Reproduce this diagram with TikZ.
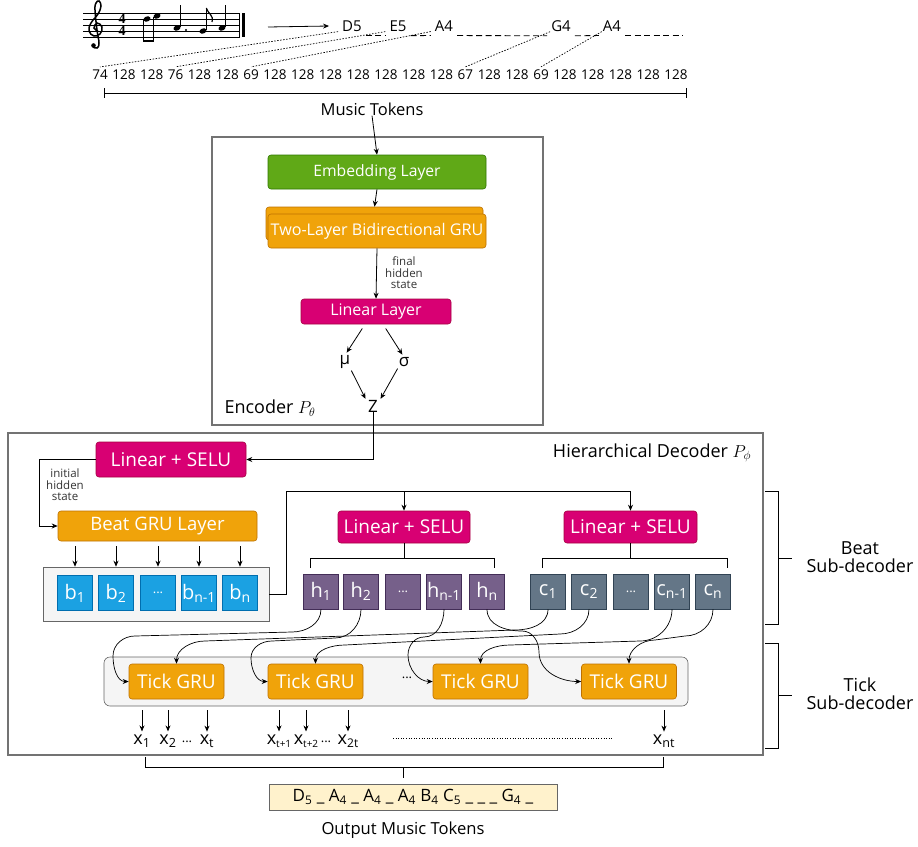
\documentclass[tikz,border=0pt]{standalone}
\usepackage{fontspec}
\setmainfont{Open Sans}
\newfontfamily\timefont{Liberation Serif}
\usetikzlibrary{arrows.meta}
\definecolor{embgreen}{HTML}{60A917}
\definecolor{embgreenD}{HTML}{2D7600}
\definecolor{gruorange}{HTML}{F0A30A}
\definecolor{gruorangeD}{HTML}{BD7000}
\definecolor{linmag}{HTML}{D80073}
\definecolor{linmagD}{HTML}{A50040}
\definecolor{tokblue}{HTML}{1BA1E2}
\definecolor{tokblueD}{HTML}{006EAF}
\definecolor{tokpurp}{HTML}{76608A}
\definecolor{tokpurpD}{HTML}{432D57}
\definecolor{tokslate}{HTML}{647687}
\definecolor{tokslateD}{HTML}{314354}
\definecolor{areagray}{HTML}{F5F5F5}
\definecolor{outcream}{HTML}{FFF2CC}
\newcommand\fsz[1]{\fontsize{#1}{#1}\selectfont}

\begin{document}
\begin{tikzpicture}[x=1pt,y=-1pt,
  every node/.style={inner sep=0pt},
  arr/.style={-{Stealth[length=6pt,width=5pt]},line width=0.8pt},
  frame/.style={draw=black!55,line width=1.3pt},
  layer/.style={draw,rounded corners=3pt,text=white,line width=0.6pt},
  emblayer/.style={layer,fill=embgreen,draw=embgreenD},
  grulayer/.style={layer,fill=gruorange,draw=gruorangeD},
  linlayer/.style={layer,fill=linmag,draw=linmagD},
  tok/.style={draw,minimum size=35pt,text=white,line width=0.6pt,font=\fsz{20}},
  btok/.style={tok,fill=tokblue,draw=tokblueD},
  htok/.style={tok,fill=tokpurp,draw=tokpurpD},
  ctok/.style={tok,fill=tokslate,draw=tokslateD},
  grayarea/.style={draw=black!60,fill=areagray,line width=0.6pt},
  notelbl/.style={font=\fsz{15}},
  smalllbl/.style={font=\fsz{11.5},align=center,text=black!80},
  num/.style={font=\fsz{13.5}},
  tokdash/.style={line width=0.8pt,dash pattern=on 6pt off 3.5pt},
  dotln/.style={line width=0.7pt,dash pattern=on 1.5pt off 1.5pt},
  curve/.style={arr,line width=0.7pt},
  outx/.style={font=\fsz{18}}]
\useasboundingbox (0,0) rectangle (918,846);

\foreach \y in {13,19,25,31,37}
  \draw[line width=0.5pt] (83,\y) -- (240,\y);
\draw[line width=0.6pt] (239,13) -- (239,37);
\draw[line width=2.2pt] (243.5,13) -- (243.5,37);
\draw[line width=1.5pt] plot[smooth,tension=0.7] coordinates {(98,31) (94,28) (97,23) (102,27) (100,34) (94,36) (89,31) (91,23) (98,14) (101,6) (99,1) (96,3) (95,10) (97,30) (99,43) (97,48) (93,47)};
\fill (93.5,45.5) circle (2.3);
\node[font=\timefont\bfseries\fsz{14}] (tsig1) at (122,18.7) {4};
\node[font=\timefont\bfseries\fsz{14}] (tsig2) at (122,31.3) {4};
\fill[rotate around={20:(147,19)}] (147,19) ellipse (3.6 and 2.6);
\fill[rotate around={20:(157,16)}] (157,16) ellipse (3.6 and 2.6);
\draw[line width=0.8pt] (143.8,20) -- (143.8,42);
\draw[line width=0.8pt] (153.8,17) -- (153.8,42);
\draw[line width=2.5pt] (143.4,41) -- (154.2,41);
\fill[rotate around={20:(177,28)}] (177,28) ellipse (3.6 and 2.6);
\draw[line width=0.8pt] (180.3,27) -- (180.3,5);
\fill (186,30) circle (1.2);
\fill[rotate around={20:(203,31)}] (203,31) ellipse (3.6 and 2.6);
\draw[line width=0.8pt] (206.3,30) -- (206.3,8);
\draw[line width=1.2pt] (206.3,8) .. controls (208,14) and (214,15) .. (212,22);
\fill[rotate around={20:(222,28)}] (222,28) ellipse (3.6 and 2.6);
\draw[line width=0.8pt] (225.3,27) -- (225.3,5);

\coordinate (scoreR) at (268,27);
\node[notelbl] (nD5) at (352,26) {D5};
\node[notelbl] (nE5) at (398,26) {E5};
\node[notelbl] (nA4) at (444,26) {A4};
\node[notelbl] (nG4) at (561,26) {G4};
\node[notelbl] (nA4b) at (612,26) {A4};
\draw[arr] (scoreR) -- ([xshift=-13pt]nD5.west);
\draw[tokdash] ([xshift=4pt,yshift=-4pt]nD5.south east) -- ([xshift=-4pt,yshift=-4pt]nE5.south west);
\draw[tokdash] ([xshift=4pt,yshift=-4pt]nE5.south east) -- ([xshift=-4pt,yshift=-4pt]nA4.south west);
\draw[tokdash] ([xshift=4pt,yshift=-4pt]nA4.south east) -- ([xshift=-4pt,yshift=-4pt]nG4.south west);
\draw[tokdash] ([xshift=4pt,yshift=-4pt]nG4.south east) -- ([xshift=-4pt,yshift=-4pt]nA4b.south west);
\draw[tokdash] ([xshift=4pt,yshift=-4pt]nA4b.south east) -- ++(58,0);

\node[num] (t1) at (100,75) {74};
\foreach \v [count=\i from 2] in {128,128,76,128,128,69,128,128,128,128,128,128,128,67,128,128,69,128,128,128,128,128}{
  \pgfmathtruncatemacro\j{\i-1}
  \node[num,anchor=west] (t\i) at ([xshift=4.2pt]t\j.east) {\v};
}
\draw[dotln] ([xshift=-4pt]nD5.south west) -- ([yshift=3pt]t1.north);
\draw[dotln] ([xshift=-4pt]nE5.south west) -- ([yshift=3pt]t4.north);
\draw[dotln] ([xshift=-4pt]nA4.south west) -- ([yshift=3pt]t7.north);
\draw[dotln] ([xshift=-1pt]nG4.south west) -- ([yshift=3pt]t15.north);
\draw[dotln] ([xshift=-1pt]nA4b.south west) -- ([yshift=3pt]t18.north);
\draw[line width=0.8pt] (104,88) -- (104,98) (104,93) -- (686,93) (686,88) -- (686,98);
\node[font=\fsz{16.5}] (mtok) at (372,109) {Music Tokens};

\node[frame,minimum width=331pt,minimum height=288pt] (enc) at (377.5,281) {};
\node[emblayer,minimum width=218pt,minimum height=34pt,font=\fsz{15.7}] (emb) at (377,172) {Embedding Layer};
\node[grulayer,minimum width=217pt,minimum height=33pt] (grub) at (374.5,223.5) {};
\node[grulayer,minimum width=218pt,minimum height=34pt,font=\fsz{16.1}] (gru) at (377,231) {Two-Layer Bidirectional GRU};
\node[linlayer,minimum width=150pt,minimum height=25pt,font=\fsz{16}] (lin) at (376,311.5) {Linear Layer};
\node[smalllbl] (fhs) at (404,273) {final\\hidden\\state};
\node[font=\fsz{17}] (mu) at (345,362) {μ};
\node[font=\fsz{17}] (sg) at (404,362) {σ};
\node[font=\fsz{17}] (z) at (373,406) {Z};
\node[font=\fsz{18}] (enclbl) at (270,408) {Encoder $P_\theta$};
\draw[arr] (mtok.south) -- (emb.north);
\draw[arr] (emb.south) -- (grub.north);
\draw[arr] (gru.south) -- (lin.north);
\draw[arr,shorten <=5pt,shorten >=3pt] ([xshift=-11pt]lin.south) -- (mu.north);
\draw[arr,shorten <=5pt,shorten >=3pt] ([xshift=7pt]lin.south) -- (sg.north);
\draw[arr,shorten <=2pt,shorten >=1pt] (mu.south east) -- ([xshift=-2pt]z.north west);
\draw[arr,shorten <=2pt,shorten >=1pt] (sg.south west) -- ([xshift=2pt]z.north east);

\node[frame,minimum width=755pt,minimum height=322pt] (dec) at (385.5,594) {};
\node[font=\fsz{18}] (declbl) at (652,453) {Hierarchical Decoder $P_\phi$};
\node[linlayer,minimum width=150pt,minimum height=35pt,font=\fsz{19}] (dlin) at (171,459.5) {Linear + SELU};
\node[smalllbl] (ihs) at (65,485) {initial\\hidden\\state};
\node[grulayer,minimum width=199pt,minimum height=30pt,font=\fsz{18.5}] (beat) at (157.5,526) {Beat GRU Layer};
\node[grayarea,minimum width=226pt,minimum height=54pt] (bcont) at (156,594) {};
\foreach \x/\t [count=\i] in {75/b\textsubscript{1},116/b\textsubscript{2},158/{\fsz{13}...},199/b\textsubscript{n-1},240/b\textsubscript{n}}
  \node[btok] (b\i) at (\x,593) {\t};
\foreach \i in {1,...,5}
  \draw[arr,shorten <=5pt] (beat.south -| b\i) -- (bcont.north -| b\i);
\draw[arr] (z.south) |- (dlin.east);
\draw[arr] (dlin.west) -- ++(-56,0) |- (beat.west);

\node[linlayer,minimum width=132pt,minimum height=32pt,font=\fsz{19}] (hlin) at (404,527) {Linear + SELU};
\node[linlayer,minimum width=133pt,minimum height=32pt,font=\fsz{19}] (clin) at (630.5,527) {Linear + SELU};
\foreach \x/\t [count=\i] in {321/h\textsubscript{1},361/h\textsubscript{2},403/{\fsz{13}...},444/h\textsubscript{n-1},487/h\textsubscript{n}}
  \node[htok] (h\i) at (\x,591.5) {\t};
\foreach \x/\t [count=\i] in {548/c\textsubscript{1},589/c\textsubscript{2},631/{\fsz{13}...},672/c\textsubscript{n-1},713/c\textsubscript{n}}
  \node[ctok] (c\i) at (\x,591.5) {\t};
\coordinate (split) at (286,491);
\draw[arr] (bcont.east) -- (split |- bcont.east) -- (split) -| (clin.north);
\draw[arr] (split -| hlin) -- (hlin.north);
\draw[line width=0.8pt] (hlin.south) -- (404,558) (310,568) -- (310,558) -- (494,558) -- (494,568);
\draw[line width=0.8pt] (clin.south) -- (630.5,558) (542,568) -- (542,558) -- (727,558) -- (727,568);

\node[grayarea,rounded corners=6pt,minimum width=584pt,minimum height=49pt] (tick) at (396,681.5) {};
\foreach \x [count=\i] in {176.5,315.5,480.5,629}
  \node[grulayer,minimum width=95pt,minimum height=35pt,font=\fsz{19}] (tg\i) at (\x,681.5) {Tick GRU};
\node[font=\fsz{13}] (tdots) at (407,678) {...};
\draw[curve] (h1.south) to[out=-90,in=0] (292,632) -- (135,636) to[out=180,in=90] (113,656) to[out=-90,in=180] (tg1.west);
\draw[curve] (h2.south) to[out=-90,in=0] (335,638) -- (272,641) to[out=180,in=90] (251,658) to[out=-90,in=180] (tg2.west);
\draw[curve] (h4.south) to[out=-90,in=0] (424,637) to[out=180,in=90] (408,655) to[out=-90,in=180] (tg3.west);
\draw[curve] (h5.south) to[out=-90,in=180] (522,631) to[out=0,in=90] (539,652) to[out=-90,in=180] (tg4.west);
\draw[curve] (c1.south) to[out=-90,in=0] (515,630) -- (205,641) to[out=180,in=90] (tg1.north);
\draw[curve] (c2.south) to[out=-90,in=0] (560,634) -- (345,645) to[out=180,in=90] (tg2.north);
\draw[curve] (c4.south) to[out=-90,in=0] (640,641) -- (510,645) to[out=180,in=90] (tg3.north);
\draw[curve] (c5.south) to[out=-90,in=0] (685,636) -- (655,640) to[out=180,in=90] (tg4.north);

\node[outx] (x1) at (142,741) {x\textsubscript{1}};
\node[outx] (x2) at (168,741) {x\textsubscript{2}};
\node[font=\fsz{13}] (xd1) at (187,742) {...};
\node[outx] (xt) at (207,741) {x\textsubscript{t}};
\node[outx] (xt1) at (279,741) {x\raisebox{-3pt}{\fsz{10}t+1}};
\node[outx] (xt2) at (306,741) {x\raisebox{-3pt}{\fsz{10}t+2}};
\node[font=\fsz{13}] (xd2) at (326,742) {...};
\node[outx] (x2t) at (348,741) {x\raisebox{-3pt}{\fsz{12}2t}};
\node[outx] (xnt) at (664,741) {x\textsubscript{nt}};
\foreach \n in {x1,x2,xt,xt1,xt2,x2t,xnt}
  \draw[arr,shorten <=4pt,shorten >=3pt] (tick.south -| \n) -- (\n.north);
\draw[line width=1pt,dash pattern=on 1pt off 1.6pt] (393,738) -- (612,738);

\draw[line width=0.8pt] (145,757) -- (145,767) -- (663,767) -- (663,757) (403,767) -- (403,778);
\node[draw=black!60,fill=outcream,line width=0.6pt,minimum width=288pt,minimum height=26pt,font=\fsz{17}] (otok) at (413,797) {D\textsubscript{5} \_ A\textsubscript{4} \_ A\textsubscript{4} \_ A\textsubscript{4} B\textsubscript{4} C\textsubscript{5} \_ \_ \_ G\textsubscript{4} \_};
\node[font=\fsz{16.6}] (olbl) at (403,830) {Output Music Tokens};

\draw[line width=1pt] (765,491) -- (778,491) -- (778,624) -- (765,624) (778,558) -- (792,558);
\draw[line width=1pt] (765,643) -- (778,643) -- (778,748) -- (765,748) (778,695) -- (792,695);
\node[font=\fsz{18},align=center] (beatlbl) at (860,557) {Beat\\Sub-decoder};
\node[font=\fsz{18},align=center] (ticklbl) at (860,694) {Tick\\Sub-decoder};
\end{tikzpicture}
\end{document}
